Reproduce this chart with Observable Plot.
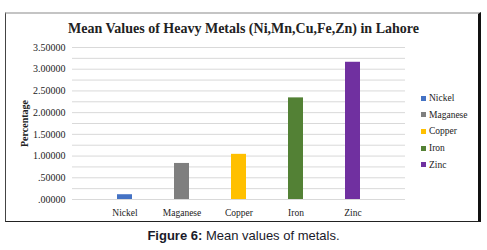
<!DOCTYPE html>
<html><head><meta charset="utf-8">
<script src="https://cdn.jsdelivr.net/npm/d3@7"></script>
<script src="https://cdn.jsdelivr.net/npm/@observablehq/plot@0.6"></script>
<style>
body{margin:0;background:#fff;}
#wrap{position:relative;width:487px;height:250px;overflow:hidden;background:#fff;}
#frame{position:absolute;left:5px;top:12px;width:472px;height:207px;border-top:2px solid #c4c4c4;border-left:1px solid #444;border-right:3px solid #111;border-bottom:1.5px solid #222;}
#chart{position:absolute;left:0;top:0;}
#title{position:absolute;left:0;width:487px;top:21px;text-align:center;font:bold 14px "Liberation Serif",serif;color:#222;}
#legend{position:absolute;left:421px;top:90px;font:9.5px "Liberation Serif",serif;color:#222;}
#legend div{height:16.6px;display:flex;align-items:center;}
#legend span.sw{display:inline-block;width:5px;height:5px;margin-right:3px;}
#caption{position:absolute;left:0;width:487px;top:228px;text-align:center;font:13px "Liberation Sans",Arial,sans-serif;color:#1a1a2a;}
#chart [aria-label="y-axis label"]{font-weight:bold;}
</style></head>
<body><div id="wrap"><div id="frame"></div><div id="chart"></div><div id="title"></div><div id="legend"></div><div id="caption"><b>Figure 6:</b> Mean values of metals.</div></div>
<script>
const title = "Mean Values of Heavy Metals (Ni,Mn,Cu,Fe,Zn) in Lahore";
const metals = ["Nickel","Maganese","Copper","Iron","Zinc"];
const values = [0.11, 0.83, 1.04, 2.34, 3.16];
const colors = ["#4472C4","#7F7F7F","#FFC000","#538135","#7030A0"];
const yTicks = [0,0.5,1,1.5,2,2.5,3,3.5];
const gridLines = [0,0.25,0.5,0.75,1,1.25,1.5,1.75,2,2.25,2.5,2.75,3,3.25,3.5];

document.getElementById("title").textContent = title;
const data = metals.map((m,i)=>({metal:m, value:values[i]}));
const fmt = d => d.toFixed(5).replace(/^0/,"");

const chart = Plot.plot({
  width:487, height:222,
  marginLeft:72, marginRight:82, marginTop:47, marginBottom:23,
  style:{fontFamily:"Liberation Serif, serif", fontSize:"10px", color:"#222", background:"transparent"},
  x:{domain:metals, padding:0.745, label:null},
  y:{domain:[0,3.5], label:null},
  color:{domain:metals, range:colors},
  marks:[
    Plot.ruleY(gridLines,{stroke:"#d9d9d9", strokeWidth:1}),
    Plot.barY(data,{x:"metal", y:"value", fill:"metal"}),
    Plot.axisY({ticks:yTicks, tickFormat:fmt, tickSize:0, tickPadding:7, label:"Percentage", labelAnchor:"center", labelArrow:"none", labelOffset:52, fontSize:10}),
    Plot.axisX({tickSize:0, tickPadding:10, label:null, fontSize:9.5})
  ]
});
document.getElementById("chart").appendChild(chart);

const leg = document.getElementById("legend");
metals.forEach((m,i)=>{
  const d = document.createElement("div");
  const s = document.createElement("span"); s.className="sw"; s.style.background=colors[i];
  d.appendChild(s); d.appendChild(document.createTextNode(m));
  leg.appendChild(d);
});
</script></body></html>
